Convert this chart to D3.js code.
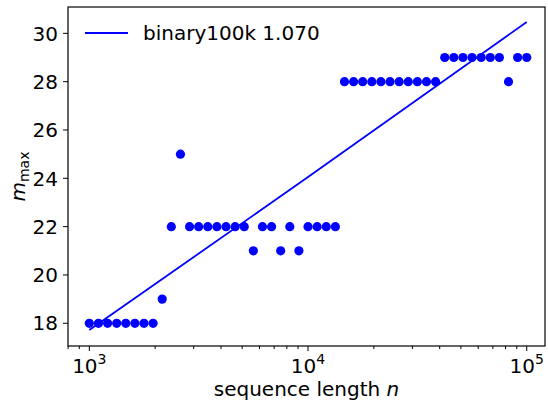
<!DOCTYPE html>
<html>
<head>
<meta charset="utf-8">
<script src="https://cdn.jsdelivr.net/npm/d3@7"></script>
<style>
  body { margin: 0; background: #fff; }
  text { font-family: "DejaVu Sans", sans-serif; }
</style>
</head>
<body>
<svg id="chart"></svg>
<script>
// sequence lengths (log spaced) and measured m_max
const seqLength = [1000, 1101, 1212, 1334, 1468, 1616, 1778, 1957, 2154, 2371,
  2610, 2873, 3162, 3481, 3831, 4217, 4642, 5109, 5623, 6190,
  6813, 7499, 8254, 9085, 10000, 11007, 12115, 13335, 14678, 16156,
  17783, 19573, 21544, 23714, 26102, 28730, 31623, 34807, 38312, 42170,
  46416, 51090, 56234, 61897, 68129, 74989, 82540, 90852, 100000]
const mMax = [18, 18, 18, 18, 18, 18, 18, 18, 19, 22,
  25, 22, 22, 22, 22, 22, 22, 22, 21, 22,
  22, 21, 22, 21, 22, 22, 22, 22, 28, 28,
  28, 28, 28, 28, 28, 28, 28, 28, 28, 29,
  29, 29, 29, 29, 29, 29, 28, 29, 29]

// fitted line
const fitN = [1000, 10000, 100000]
const fitM = [17.72, 24.05, 30.47]
const fitLabel = "binary100k 1.070"

const yTicks = [18, 20, 22, 24, 26, 28, 30]
const xTicks = [1000, 10000, 100000]

const svgWidth = 548
const svgHeight = 405
const margin = { left: 68, top: 7, right: 3, bottom: 59 }
const chartWidth = svgWidth - margin.left - margin.right
const chartHeight = svgHeight - margin.top - margin.bottom
const blue = "#0000ff"

const svg = d3.select("#chart")
  .attr("width", svgWidth)
  .attr("height", svgHeight)

const g = svg.append("g")
  .attr("transform", `translate(${margin.left}, ${margin.top})`)

const x = d3.scaleLog()
  .domain([799, 121200])
  .range([0, chartWidth])

const y = d3.scaleLinear()
  .domain([17.06, 31.09])
  .range([chartHeight, 0])

// minor ticks of log axis
const minorTicks = []
for (let p = 2; p <= 5; p++) {
  for (let m = 2; m < 10; m++) {
    const v = m * Math.pow(10, p)
    if (v > x.domain()[0] && v < x.domain()[1]) minorTicks.push(v)
  }
}

const xAxisG = g.append("g")
  .attr("transform", `translate(0, ${chartHeight})`)

xAxisG.selectAll("line.minor")
  .data(minorTicks)
  .enter()
  .append("line")
  .attr("class", "minor")
  .attr("x1", d => x(d)).attr("x2", d => x(d))
  .attr("y1", 0).attr("y2", 3)
  .attr("stroke", "black").attr("stroke-width", 1)

xAxisG.selectAll("line.major")
  .data(xTicks)
  .enter()
  .append("line")
  .attr("class", "major")
  .attr("x1", d => x(d)).attr("x2", d => x(d))
  .attr("y1", 0).attr("y2", 5)
  .attr("stroke", "black").attr("stroke-width", 1)

const xLab = xAxisG.selectAll("text.tick")
  .data(xTicks)
  .enter()
  .append("text")
  .attr("class", "tick")
  .attr("x", d => x(d))
  .attr("y", 27)
  .attr("text-anchor", "middle")
  .style("font-size", "20px")
xLab.append("tspan").text("10")
xLab.append("tspan")
  .attr("dy", -9)
  .style("font-size", "14px")
  .text(d => Math.round(Math.log10(d)))

const yAxisG = g.append("g")
yAxisG.selectAll("line")
  .data(yTicks)
  .enter()
  .append("line")
  .attr("x1", -5).attr("x2", 0)
  .attr("y1", d => y(d)).attr("y2", d => y(d))
  .attr("stroke", "black").attr("stroke-width", 1)

yAxisG.selectAll("text")
  .data(yTicks)
  .enter()
  .append("text")
  .attr("x", -10)
  .attr("y", d => y(d))
  .attr("dy", "0.36em")
  .attr("text-anchor", "end")
  .style("font-size", "20px")
  .text(d => d)

// frame
g.append("rect")
  .attr("width", chartWidth)
  .attr("height", chartHeight)
  .attr("fill", "none")
  .attr("stroke", "black")
  .attr("stroke-width", 1.2)

// fit line
const line = d3.line()
  .x((d, i) => x(fitN[i]))
  .y(d => y(d))
g.append("path")
  .attr("d", line(fitM))
  .attr("fill", "none")
  .attr("stroke", blue)
  .attr("stroke-width", 1.8)

// points
g.selectAll("circle")
  .data(mMax)
  .enter()
  .append("circle")
  .attr("cx", (d, i) => x(seqLength[i]))
  .attr("cy", d => y(d))
  .attr("r", 4.6)
  .attr("fill", blue)

// legend
const legend = g.append("g")
legend.append("line")
  .attr("x1", 17).attr("x2", 60)
  .attr("y1", 26).attr("y2", 26)
  .attr("stroke", blue)
  .attr("stroke-width", 1.8)
legend.append("text")
  .attr("x", 75)
  .attr("y", 26)
  .attr("dy", "0.36em")
  .style("font-size", "20px")
  .text(fitLabel)

// axis labels
const xTitle = svg.append("text")
  .attr("x", margin.left + chartWidth / 2)
  .attr("y", 396)
  .attr("text-anchor", "middle")
  .style("font-size", "20px")
xTitle.append("tspan").text("sequence length ")
xTitle.append("tspan").style("font-style", "italic").text("n")

const yTitle = svg.append("text")
  .attr("transform", `translate(25, ${margin.top + chartHeight / 2}) rotate(-90)`)
  .attr("text-anchor", "middle")
  .style("font-size", "20px")
yTitle.append("tspan").style("font-style", "italic").text("m")
yTitle.append("tspan")
  .attr("dy", 4)
  .style("font-size", "14px")
  .text("max")
</script>
</body>
</html>
